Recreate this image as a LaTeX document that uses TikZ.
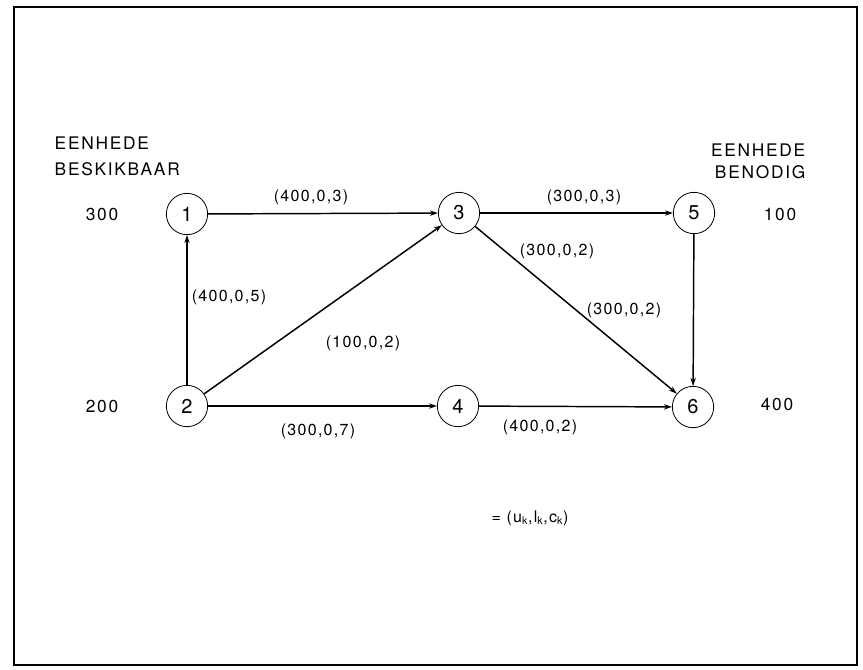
\documentclass[tikz,border=0pt]{standalone}
\usepackage{fontspec}
\setmainfont{TeX Gyre Heros}
\newfontfamily\lblfont[LetterSpace=10]{TeX Gyre Heros}
\newfontfamily\costfont[LetterSpace=8]{TeX Gyre Heros}
\usetikzlibrary{arrows.meta}

\begin{document}
\begin{tikzpicture}[x=0.75pt, y=-0.75pt,
  vertex/.style={draw, circle, line width=0.6pt, minimum size=31pt, inner sep=0pt, font=\fontsize{15}{15}\selectfont},
  flow/.style={line width=1.1pt, -{Stealth[length=6pt, width=4pt]}},
  amount/.style={font=\lblfont\fontsize{13}{14}\selectfont},
  cost/.style={font=\costfont\fontsize{12}{13}\selectfont}]
  \useasboundingbox (0,0) rectangle (863,669);
  \draw[line width=1pt] (14,7) rectangle (857,665);
  \node[vertex] (n1) at (187,214) {1};
  \node[vertex] (n2) at (187,406) {2};
  \node[vertex] (n3) at (459,213) {3};
  \node[vertex] (n4) at (458,406) {4};
  \node[vertex] (n5) at (694,213) {5};
  \node[vertex] (n6) at (693,407) {6};
  \node[amount, anchor=west] (eenl) at (50,143) {EENHEDE};
  \node[amount, anchor=west] (besk) at (50,169) {BESKIKBAAR};
  \node[amount, anchor=east] (eenr) at (810,150) {EENHEDE};
  \node[amount, anchor=east] (beno) at (810,172) {BENODIG};
  \node[amount] (s1) at (102,214) {300};
  \node[amount] (s2) at (102,406) {200};
  \node[amount] (d5) at (780,214) {100};
  \node[amount] (d6) at (777,404) {400};
  \draw[flow] (n1) -- (n3);
  \draw[flow] (n3) -- (n5);
  \draw[flow] (n2) -- (n1);
  \draw[flow] (n2) -- (n3);
  \draw[flow] (n2) -- (n4);
  \draw[flow] (n4) -- (n6);
  \draw[flow] (n3) -- (n6);
  \draw[flow] (n5) -- (n6);
  \node[cost] (c13) at (311,197) {(400,0,3)};
  \node[cost] (c35) at (584,197) {(300,0,3)};
  \node[cost] (c36) at (557,251) {(300,0,2)};
  \node[cost] (c56) at (624,310) {(300,0,2)};
  \node[cost] (c21) at (229,297) {(400,0,5)};
  \node[cost] (c23) at (363,343) {(100,0,2)};
  \node[cost] (c24) at (318,431) {(300,0,7)};
  \node[cost] (c46) at (540,427) {(400,0,2)};
  \node[cost] (key) at (530,518) {= (u\textsubscript{k},l\textsubscript{k},c\textsubscript{k})};
\end{tikzpicture}
\end{document}
